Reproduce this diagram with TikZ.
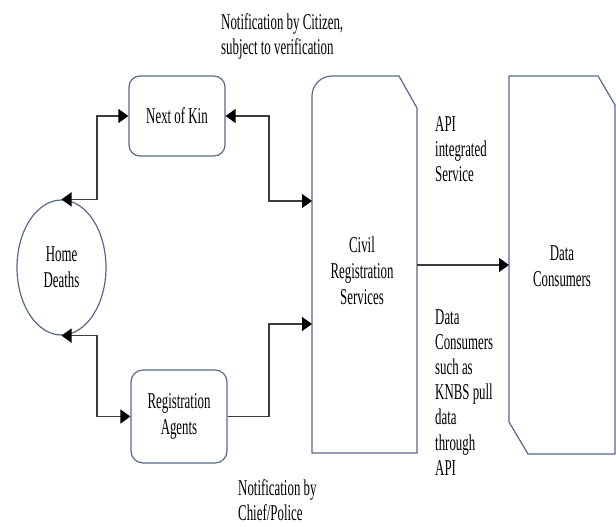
\documentclass[tikz,border=0pt]{standalone}
\usepackage{fontspec}
\setmainfont{Liberation Serif}[FakeStretch=0.57]
\usetikzlibrary{arrows.meta,shapes.geometric}
\definecolor{edge}{RGB}{88,104,140}
\definecolor{wire}{RGB}{60,60,60}
\begin{document}
\begin{tikzpicture}[x=1pt,y=-1pt,
  every node/.style={font=\fontsize{22.6}{26}\selectfont, inner sep=0pt, text=black},
  box/.style={draw=edge, line width=1.2pt},
  link/.style={draw=wire, line width=1.3pt},
  tip/.style={-{Triangle[length=10pt,width=14pt,color=black]}},
  dbl/.style={{Triangle[length=10pt,width=14pt,color=black]}-{Triangle[length=10pt,width=14pt,color=black]}},
  note/.style={anchor=north west, align=left, font=\fontsize{22.6}{25.2}\selectfont}
]
\useasboundingbox (0,0) rectangle (616,527);

% actors on the left
\node[box, rounded corners=11pt, minimum width=96pt, minimum height=80pt] (kin) at (177,116) {Next of Kin};
\node[box, rounded corners=12pt, minimum width=96pt, minimum height=93pt, align=center] (agents) at (179,416.5) {Registration\\Agents};
\node[box, ellipse, minimum width=89pt, minimum height=135pt, align=center] (home) at (61.5,267.5) {Home\\Deaths};

% civil registration services: tall card with one rounded and one cut corner
\node[align=center] (crs) at (362,271) {Civil\\Registration\\Services};
\draw[box] (312,453) -- (312,96) arc[start angle=180,end angle=90,radius=20pt] -- (399,76) -- (417,108) -- (417,453) -- cycle;
\coordinate (crsA) at (312,201);
\coordinate (crsB) at (312,324);
\coordinate (crsC) at (417,265);

% data consumers: card with two cut corners
\node[align=center] (dc) at (562,266.5) {Data\\Consumers};
\draw[box] (509,76) -- (598,76) -- (615,105) -- (615,454) -- (528,454) -- (509,422) -- cycle;
\coordinate (dcW) at (509,265);

% bend points of the connectors
\coordinate (kl) at (97,116);
\coordinate (kr) at (269,201);
\coordinate (al) at (97,416.5);
\coordinate (ar) at (269,324);

\draw[link, dbl] (home.north) -| (kl) -- (kin.west);
\draw[link, dbl] (kin.east) -| (kr) -- (crsA);
\draw[link, dbl] (home.south) -| (al) -- (agents.west);
\draw[link, tip] (agents.east) -| (ar) -- (crsB);
\draw[link, tip] (crsC) -- (dcW);

% annotations
\node[note] (citizen) at (221,13) {Notification by Citizen,\\subject to verification};
\node[note] (api) at (435,116) {API\\integrated\\Service};
\node[note] (pull) at (435,309) {Data\\Consumers\\such as\\KNBS pull\\data\\through\\API};
\node[note] (chief) at (238,479) {Notification by\\Chief/Police};
\end{tikzpicture}
\end{document}
